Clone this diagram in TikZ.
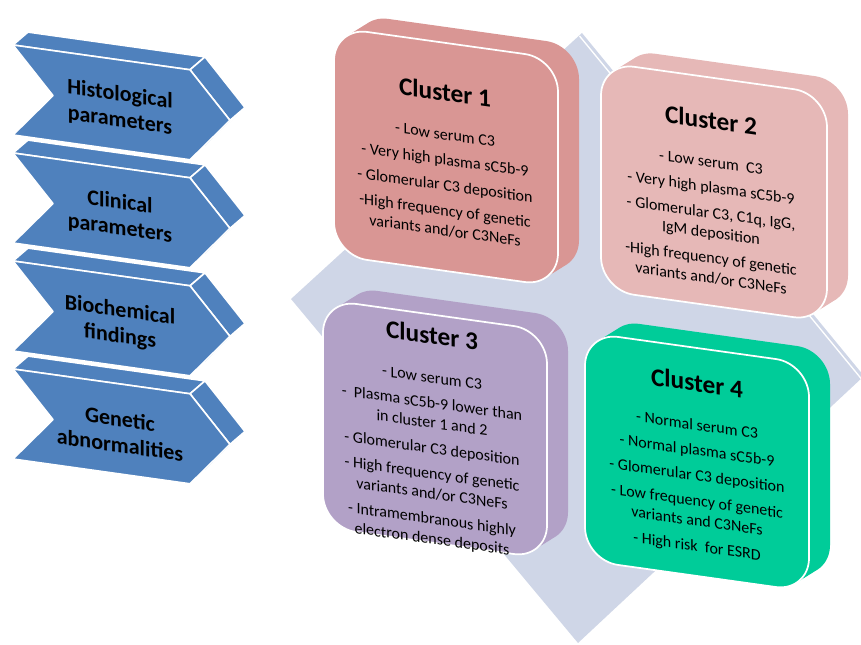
\documentclass[tikz,border=0pt]{standalone}
\usepackage{fontspec}
\setmainfont{Carlito}
\usepackage{tikz}

\definecolor{chevblue}{RGB}{79,129,189}
\definecolor{matrixgrey}{RGB}{207,214,231}
\definecolor{clusterA}{RGB}{217,150,148}
\definecolor{clusterB}{RGB}{230,184,183}
\definecolor{clusterC}{RGB}{178,161,199}
\definecolor{clusterD}{RGB}{0,204,153}

\tikzset{
  chev/.style={fill=chevblue, draw=white, line width=1.2pt, line join=round},
  tileedge/.style={draw=white, line width=1.3pt, rounded corners=25pt},
  tilebody/.style={rounded corners=25pt},
  tiletext/.style={align=center, inner sep=0pt, yslant=-0.14, font=\fontsize{12}{15}\selectfont},
  chevtext/.style={align=center, inner sep=0pt, yslant=-0.14, font=\fontsize{16.5}{19.5}\selectfont\bfseries},
}
\newcommand{\clustertitle}[1]{{\fontsize{19}{23}\selectfont\bfseries #1}\\[14pt]}
\newcommand{\nextitem}{\\[4pt]}

\begin{document}
\begin{tikzpicture}[x=0.75pt,y=0.75pt,yscale=-1,xscale=1]
\path[use as bounding box] (0,0) rectangle (861,645);
\clip (0,0) rectangle (861,645);

%Shape: Diamond [id:matrix]
\coordinate (mL) at (291,299);
\coordinate (mT) at (582,33);
\coordinate (mR) at (864,376);
\coordinate (mB) at (578,643);
\fill[matrixgrey] (mL) -- (mT) -- (mR) -- (mB) -- cycle ;
\draw[white, line width=1pt] ([shift={(-2.5,3)}]mT) -- ([shift={(-2.5,3)}]mR) ;

%Shape: Chevron [id:histo]
\begin{scope}[shift={(13,45)},yslant=0.14]
\draw[chev] (15,-15) -- (192,-15) -- (232,30) -- (192,75) -- (15,75) -- (55,30) -- cycle ;
\draw[chev] (0,0) -- (177,0) -- (192,-15) -- (15,-15) -- cycle ;
\draw[chev] (177,0) -- (217,45) -- (232,30) -- (192,-15) -- cycle ;
\draw[chev] (0,0) -- (177,0) -- (217,45) -- (177,90) -- (0,90) -- (40,45) -- cycle ;
% Text Node
\node[chevtext] (histo) at (107,48) {Histological\\parameters};
\end{scope}

%Shape: Chevron [id:clin]
\begin{scope}[shift={(13,153)},yslant=0.14]
\draw[chev] (15,-15) -- (192,-15) -- (232,30) -- (192,75) -- (15,75) -- (55,30) -- cycle ;
\draw[chev] (0,0) -- (177,0) -- (192,-15) -- (15,-15) -- cycle ;
\draw[chev] (177,0) -- (217,45) -- (232,30) -- (192,-15) -- cycle ;
\draw[chev] (0,0) -- (177,0) -- (217,45) -- (177,90) -- (0,90) -- (40,45) -- cycle ;
% Text Node
\node[chevtext] (clin) at (107,48) {Clinical\\parameters};
\end{scope}

%Shape: Chevron [id:bioch]
\begin{scope}[shift={(13,261)},yslant=0.14]
\draw[chev] (15,-15) -- (192,-15) -- (232,30) -- (192,75) -- (15,75) -- (55,30) -- cycle ;
\draw[chev] (0,0) -- (177,0) -- (192,-15) -- (15,-15) -- cycle ;
\draw[chev] (177,0) -- (217,45) -- (232,30) -- (192,-15) -- cycle ;
\draw[chev] (0,0) -- (177,0) -- (217,45) -- (177,90) -- (0,90) -- (40,45) -- cycle ;
% Text Node
\node[chevtext] (bioch) at (107,48) {Biochemical\\findings};
\end{scope}

%Shape: Chevron [id:genet]
\begin{scope}[shift={(13,369)},yslant=0.14]
\draw[chev] (15,-15) -- (192,-15) -- (232,30) -- (192,75) -- (15,75) -- (55,30) -- cycle ;
\draw[chev] (0,0) -- (177,0) -- (192,-15) -- (15,-15) -- cycle ;
\draw[chev] (177,0) -- (217,45) -- (232,30) -- (192,-15) -- cycle ;
\draw[chev] (0,0) -- (177,0) -- (217,45) -- (177,90) -- (0,90) -- (40,45) -- cycle ;
% Text Node
\node[chevtext] (genet) at (107,48) {Genetic\\abnormalities};
\end{scope}

%Shape: Rounded Square [id:cluster1]
\begin{scope}[shift={(446,157)},yslant=0.14]
\foreach \f in {1,0.75,0.5,0.25}
  \fill[clusterA, tilebody, shift={(21*\f,-16*\f)}] (-112,-114) rectangle (112,114) ;
\draw[fill=clusterA, tileedge] (-112,-114) rectangle (112,114) ;
% Text Node
\node[tiletext] (cl1) at (-1,3) {\clustertitle{Cluster 1}- Low serum C3\nextitem - Very high plasma sC5b-9\nextitem - Glomerular C3 deposition\nextitem -High frequency of genetic\\variants and/or C3NeFs};
\end{scope}

%Shape: Rounded Square [id:cluster2]
\begin{scope}[shift={(714,192)},yslant=0.14]
\foreach \f in {1,0.75,0.5,0.25}
  \fill[clusterB, tilebody, shift={(21*\f,-16*\f)}] (-113,-114) rectangle (113,114) ;
\draw[fill=clusterB, tileedge] (-113,-114) rectangle (113,114) ;
% Text Node
\node[tiletext] (cl2) at (-3,6) {\clustertitle{Cluster 2}- Low serum~ C3\nextitem - Very high plasma sC5b-9\nextitem - Glomerular C3, C1q, IgG,\\IgM deposition\nextitem -High frequency of genetic\\variants and/or C3NeFs};
\end{scope}

%Shape: Rounded Square [id:cluster3]
\begin{scope}[shift={(435,429)},yslant=0.14]
\foreach \f in {1,0.75,0.5,0.25}
  \fill[clusterC, tilebody, shift={(21*\f,-16*\f)}] (-112,-114) rectangle (112,114) ;
\draw[fill=clusterC, tileedge] (-112,-114) rectangle (112,114) ;
% Text Node
\node[tiletext] (cl3) at (-3,8) {\clustertitle{Cluster 3}- Low serum C3\nextitem -~ Plasma sC5b-9 lower than\\in cluster 1 and 2\nextitem - Glomerular C3 deposition\nextitem - High frequency of genetic\\variants and/or C3NeFs\nextitem - Intramembranous highly\\electron dense deposits};
\end{scope}

%Shape: Rounded Square [id:cluster4]
\begin{scope}[shift={(697,462)},yslant=0.14]
\foreach \f in {1,0.75,0.5,0.25}
  \fill[clusterD, tilebody, shift={(21*\f,-16*\f)}] (-112,-114) rectangle (112,114) ;
\draw[fill=clusterD, tileedge] (-112,-114) rectangle (112,114) ;
% Text Node
\node[tiletext] (cl4) at (0,2) {\clustertitle{Cluster 4}- Normal serum C3\nextitem - Normal plasma sC5b-9\nextitem - Glomerular C3 deposition\nextitem - Low frequency of genetic\\variants and C3NeFs\nextitem - High risk~ for ESRD};
\end{scope}

\end{tikzpicture}
\end{document}
